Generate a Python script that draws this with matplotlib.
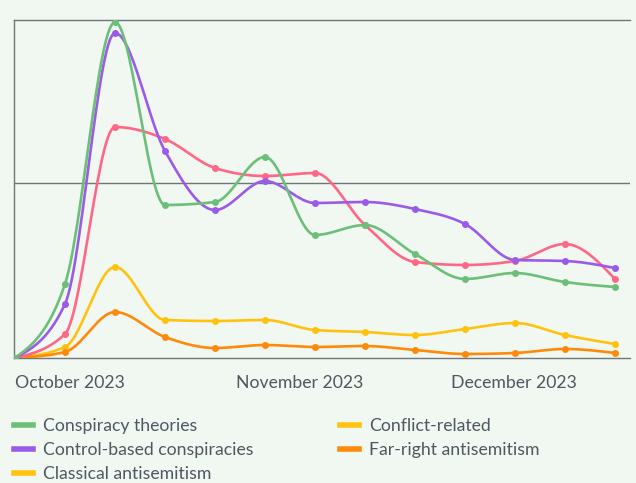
import numpy as np
import pandas as pd
import matplotlib
matplotlib.use("Agg")
import matplotlib.pyplot as plt
import matplotlib.dates as mdates
from matplotlib.lines import Line2D

weeks = pd.date_range("2023-10-01", periods=13, freq="7D")
conspiracy = [0, 74, 336, 153, 156, 201, 123, 133, 104, 79, 85, 76, 71]
control = [0, 54, 325, 207, 148, 177, 155, 156, 149, 134, 98, 97, 90]
pink_series = [0, 24, 231, 219, 190, 182, 185, 133, 96, 93, 97, 114, 79]
yellow_series = [0, 11, 91, 38, 37, 38, 28, 26, 23, 29, 35, 23, 14]
farright = [0, 6, 46, 21, 10, 13, 11, 12, 8, 4, 5, 9, 5]

legend_labels = ["Conspiracy theories", "Control-based conspiracies", "Classical antisemitism",
                 "Conflict-related", "Far-right antisemitism"]

GREEN = "#6cbf78"
PURPLE = "#9a5be8"
PINK = "#ff6786"
YELLOW = "#ffc20e"
ORANGE = "#ff8a0a"
BG = "#f1f7f1"
TXT = "#4d5860"
AX = "#6e7679"

plt.rcParams['font.family'] = ['Lato', 'DejaVu Sans']


def smooth(x, y, n=30):
    # monotone cubic (same idea as d3 curveMonotoneX)
    x = np.asarray(x, float)
    y = np.asarray(y, float)
    h = np.diff(x)
    s = np.diff(y) / h
    m = np.zeros(len(x))
    for i in range(1, len(x) - 1):
        p = (s[i - 1] * h[i] + s[i] * h[i - 1]) / (h[i - 1] + h[i])
        m[i] = (np.sign(s[i - 1]) + np.sign(s[i])) * min(abs(s[i - 1]), abs(s[i]), 0.5 * abs(p))
    m[0] = (3 * s[0] - m[1]) / 2
    m[-1] = (3 * s[-1] - m[-2]) / 2
    xs, ys = [], []
    t = np.linspace(0, 1, n)
    for i in range(len(x) - 1):
        h00 = 2 * t ** 3 - 3 * t ** 2 + 1
        h10 = t ** 3 - 2 * t ** 2 + t
        h01 = -2 * t ** 3 + 3 * t ** 2
        h11 = t ** 3 - t ** 2
        xs.append(x[i] + t * h[i])
        ys.append(h00 * y[i] + h10 * h[i] * m[i] + h01 * y[i + 1] + h11 * h[i] * m[i + 1])
    return np.concatenate(xs), np.concatenate(ys)


fig = plt.figure(figsize=(6.36, 4.83), dpi=100, facecolor=BG)
ax = fig.add_axes([14 / 636, 1 - 358 / 483, 616 / 636, 338 / 483])
ax.set_facecolor(BG)

xn = mdates.date2num(weeks)
series = [(yellow_series, YELLOW), (farright, ORANGE), (pink_series, PINK),
          (control, PURPLE), (conspiracy, GREEN)]
for vals, col in series:
    sx, sy = smooth(xn, vals)
    ax.plot(sx, sy, color=col, lw=1.9, solid_capstyle="round", zorder=3)
    ax.plot(xn, vals, "o", color=col, ms=4, zorder=4)

step = xn[1] - xn[0]
ax.set_xlim(xn[0] - step * 1 / 50, xn[0] + step * 615 / 50)
ax.set_ylim(0, 338)
ax.axhline(175, color=AX, lw=1, zorder=1)

ax.spines["right"].set_visible(False)
for s in ["left", "bottom", "top"]:
    ax.spines[s].set_color(AX)
    ax.spines[s].set_linewidth(1)

ax.set_yticks([])
ticks = mdates.date2num(pd.to_datetime(["2023-10-01", "2023-11-01", "2023-12-01"]))
ax.set_xticks(ticks)
ax.set_xticklabels(["October 2023", "November 2023", "December 2023"])
ax.tick_params(axis="x", length=0, pad=12, labelsize=12.7, labelcolor=TXT)
for lb in ax.get_xticklabels():
    lb.set_horizontalalignment("left")

handles = [Line2D([], [], color=c, lw=4) for c in [GREEN, PURPLE, YELLOW, YELLOW, ORANGE]]
fig.legend(handles, legend_labels, ncol=2, loc="upper left", bbox_to_anchor=(14 / 636, 1 - 418 / 483),
           frameon=False, fontsize=12.7, labelcolor=TXT, handlelength=1.1, handletextpad=0.55,
           columnspacing=4.9, labelspacing=0.45, borderaxespad=0, borderpad=0)

fig.savefig("out.png", dpi=100, facecolor=BG)
